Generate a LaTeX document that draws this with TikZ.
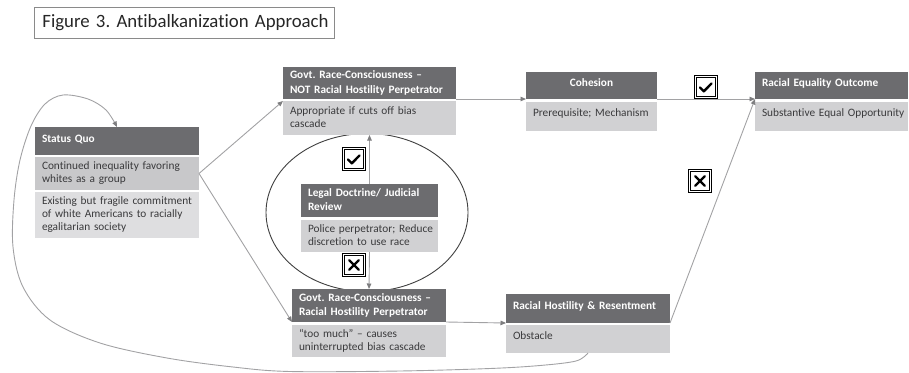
\documentclass[tikz,border=0pt]{standalone}
\usepackage{fontspec}
\setmainfont{Carlito}[Ligatures={TeX,NoCommon}]
\usetikzlibrary{arrows.meta,shapes.geometric}
\frenchspacing

\definecolor{hdr}{HTML}{6C6C6F}
\definecolor{bodyA}{HTML}{D1D1D3}
\definecolor{bodyB}{HTML}{C8C8CA}
\definecolor{bodyC}{HTML}{DEDEE0}
\definecolor{txt}{HTML}{3A3A3C}
\definecolor{connc}{HTML}{A2A2A4}
\definecolor{tipc}{HTML}{7E7E80}
\definecolor{framec}{HTML}{8A8A8A}

% one or more fixed lines, never re-broken
\newcommand\rows[1]{\begin{tabular}{@{}l@{}}#1\end{tabular}}
% extra depth that lifts a single line toward the top of its box
\newcommand\lift{\rule[-8pt]{0pt}{8pt}}

\begin{document}
\begin{tikzpicture}[x=1pt,y=-1pt,
  box/.style={anchor=north west, outer sep=0pt, inner xsep=7pt, inner ysep=0pt, align=left},
  hdrbox/.style={box, fill=hdr, text=white, font=\fontsize{11.3}{14.5}\selectfont\bfseries},
  bodybox/.style={box, fill=bodyA, text=txt, font=\fontsize{11.3}{13}\selectfont},
  conn/.style={draw=connc, line width=0.9pt,
    -{Triangle[length=5.5pt,width=4.5pt,color=tipc]}},
  markbox/.style={draw=black, double=white, double distance=0.8pt, line width=1.2pt,
    minimum size=21pt, inner sep=0pt, fill=white},
  markline/.style={draw=black, line width=2.4pt, line cap=round, line join=round},
  ringline/.style={draw=black!75, line width=0.9pt}
]
\useasboundingbox (0,0) rectangle (909,372);

% title
\node[draw=framec, line width=0.8pt, anchor=north west, minimum width=300pt,
  minimum height=31pt, inner xsep=8pt, inner ysep=0pt, text width=284pt, align=left,
  text=black!85, font=\fontsize{18.8}{22}\selectfont] (title) at (34,7)
  {\mbox{Figure 3. Antibalkanization Approach}};

% ring round the judicial review box
\node[ellipse, ringline, minimum width=202pt, minimum height=158pt, inner sep=0pt] (ring)
  at (367,212.5) {};

% status quo
\node[hdrbox, minimum width=164pt, text width=150pt, minimum height=28pt] (sqh) at (35,127)
  {\rows{Status Quo}\lift};
\node[bodybox, fill=bodyB, minimum width=164pt, text width=150pt, minimum height=33pt] (sqb1) at (35,157)
  {\rows{Continued inequality favoring\\whites as a group}};
\node[bodybox, fill=bodyC, minimum width=164pt, text width=150pt, minimum height=46pt] (sqb2) at (35,192)
  {\rows{Existing but fragile commitment\\of white Americans to racially\\egalitarian society}};

% government race-consciousness, not a perpetrator
\node[hdrbox, minimum width=173pt, text width=159pt, minimum height=32pt] (gnh) at (283,67)
  {\rows{Govt. Race-Consciousness –\\NOT Racial Hostility Perpetrator}};
\node[bodybox, minimum width=173pt, text width=159pt, minimum height=34pt] (gnb) at (283,101)
  {\rows{Appropriate if cuts off bias\\cascade}};

% legal doctrine
\node[hdrbox, minimum width=137pt, text width=123pt, minimum height=33pt] (ldh) at (301,184)
  {\rows{Legal Doctrine/ Judicial\\Review}};
\node[bodybox, minimum width=137pt, text width=123pt, minimum height=32pt] (ldb) at (301,220)
  {\rows{Police perpetrator; Reduce\\discretion to use race}};

% government race-consciousness, perpetrator
\node[hdrbox, minimum width=154pt, text width=140pt, minimum height=33pt] (grh) at (292,289)
  {\rows{Govt. Race-Consciousness –\\Racial Hostility Perpetrator}};
\node[bodybox, minimum width=154pt, text width=140pt, minimum height=32pt] (grb) at (292,325)
  {\rows{“too much” – causes\\uninterrupted bias cascade}};

% cohesion
\node[hdrbox, align=center, minimum width=131pt, text width=117pt, minimum height=27pt] (coh) at (526,72)
  {\rows{Cohesion}\lift};
\node[bodybox, minimum width=131pt, text width=117pt, minimum height=29pt] (cob) at (526,102)
  {\rows{Prerequisite; Mechanism}\lift};

% outcome
\node[hdrbox, minimum width=153pt, text width=139pt, minimum height=27pt] (reh) at (755,72)
  {\rows{Racial Equality Outcome}\lift};
\node[bodybox, minimum width=153pt, text width=139pt, minimum height=29pt] (reb) at (755,102)
  {\rows{Substantive Equal Opportunity}\lift};

% hostility and resentment
\node[hdrbox, minimum width=164pt, text width=150pt, minimum height=29pt] (rhh) at (506,294)
  {\rows{Racial Hostility \& Resentment}\lift};
\node[bodybox, minimum width=164pt, text width=150pt, minimum height=28pt] (rhb) at (506,325)
  {\rows{Obstacle}\lift};

% connectors
\draw[conn] (sqb1.east) -- (gnb.north west);
\draw[conn] (sqb1.east) -- (grh.south west);
\draw[conn] (gnh.south east) -- (coh.south west);
\draw[conn] (coh.south east) -- (reh.south west);
\draw[conn] (grh.south east) -- (rhh.south west);
\draw[conn] (rhh.south east) -- (reh.south west);
\draw[conn] (ldh.north) -- (gnb.south);
\draw[conn] (ldb.south) -- (grh.north);

% feedback loop back to the status quo
\draw[conn] plot[smooth, tension=0.55] coordinates {(rhb.south) (576,361) (540,365.5) (490,368.5)
  (400,371) (290,371.5) (233,367) (167,358) (100,343) (50,320) (23,287) (13,247) (14,200)
  (20,160) (31,126) (45,104) (63,95) (88,99) (106,110) (sqh.north)};

% check and cross marks
\node[markbox] (chkA) at (354,159) {};
\draw[markline] ([shift={(-6,0.5)}]chkA.center) -- ([shift={(-2.2,4.3)}]chkA.center)
  -- ([shift={(5.5,-3.5)}]chkA.center);
\node[markbox] (crsA) at (354,265) {};
\draw[markline] ([shift={(-4.8,-4.8)}]crsA.center) -- ([shift={(4.8,4.8)}]crsA.center);
\draw[markline] ([shift={(-4.8,4.8)}]crsA.center) -- ([shift={(4.8,-4.8)}]crsA.center);

\node[markbox] (chkB) at (706,87) {};
\draw[markline] ([shift={(-6,0.5)}]chkB.center) -- ([shift={(-2.2,4.3)}]chkB.center)
  -- ([shift={(5.5,-3.5)}]chkB.center);
\node[markbox] (crsB) at (700,181) {};
\draw[markline] ([shift={(-4.8,-4.8)}]crsB.center) -- ([shift={(4.8,4.8)}]crsB.center);
\draw[markline] ([shift={(-4.8,4.8)}]crsB.center) -- ([shift={(4.8,-4.8)}]crsB.center);
\end{tikzpicture}
\end{document}
